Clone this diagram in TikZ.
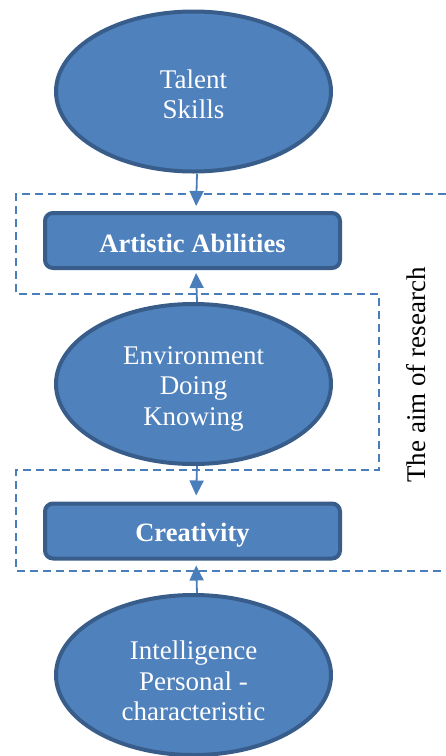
\documentclass[tikz,border=0pt]{standalone}
\usepackage{fontspec}
\setmainfont{Liberation Serif}
\usetikzlibrary{shapes.geometric,arrows.meta}

\definecolor{boxfill}{HTML}{4F81BD}
\definecolor{boxedge}{HTML}{385D8A}
\definecolor{linkblue}{HTML}{4A7EBB}

\tikzset{
  oval/.style={ellipse, draw=boxedge, fill=boxfill, line width=4pt,
    minimum width=275pt, minimum height=160pt, inner sep=0pt},
  bar/.style={rectangle, rounded corners=8pt, draw=boxedge, fill=boxfill,
    line width=4pt, minimum width=295pt, minimum height=55pt, inner sep=0pt},
  inner/.style={text=white, align=center, inner sep=0pt,
    font=\fontsize{27}{30.5}\selectfont},
  innerbold/.style={inner, font=\fontsize{26.5}{31}\selectfont\bfseries},
  link/.style={draw=linkblue, line width=1.8pt,
    -{Triangle[length=15pt,width=14pt]}},
  frame/.style={draw=linkblue, line width=1.6pt, dash pattern=on 8pt off 5pt}
}

\begin{document}
\begin{tikzpicture}[x=1pt,y=-1pt]
  \useasboundingbox (0,0) rectangle (446,756);

  % dashed outline around the two target boxes
  \draw[frame] (446,194) -- (16,194) -- (16,294) -- (379,294) -- (379,470)
    -- (16,470) -- (16,571) -- (446,571);

  % shapes with their captions
  \node[oval, label={[inner, yshift=-3pt]center:{Talent\\Skills}}]
    (talent) at (193.5,91.5) {};
  \node[bar, label={[innerbold, yshift=-3pt]center:{Artistic Abilities}}]
    (artistic) at (192.5,240.5) {};
  \node[oval, label={[inner, yshift=-4.5pt]center:{Environment\\Doing\\Knowing}}]
    (env) at (193.5,384) {};
  \node[bar, label={[innerbold, yshift=-4.5pt]center:{Creativity}}]
    (creat) at (192.5,531) {};
  \node[oval, label={[inner, yshift=-6pt]center:{Intelligence\\Personal -\\characteristic}}]
    (intel) at (193.5,675) {};

  % side label
  \node[rotate=90, anchor=base, font=\fontsize{27}{32}\selectfont] (aim)
    at (425,375) {The aim of research};

  % connectors
  \draw[link, shorten >=5pt] ([xshift=3.5pt]talent.south) -- ([xshift=3.5pt]artistic.north);
  \draw[link, shorten >=3pt] ([xshift=3.5pt]env.north) -- ([xshift=3.5pt]artistic.south);
  \draw[link, shorten >=6pt] ([xshift=3.5pt]env.south) -- ([xshift=3.5pt]creat.north);
  \draw[link, shorten >=5pt] ([xshift=3.5pt]intel.north) -- ([xshift=3.5pt]creat.south);
\end{tikzpicture}
\end{document}
